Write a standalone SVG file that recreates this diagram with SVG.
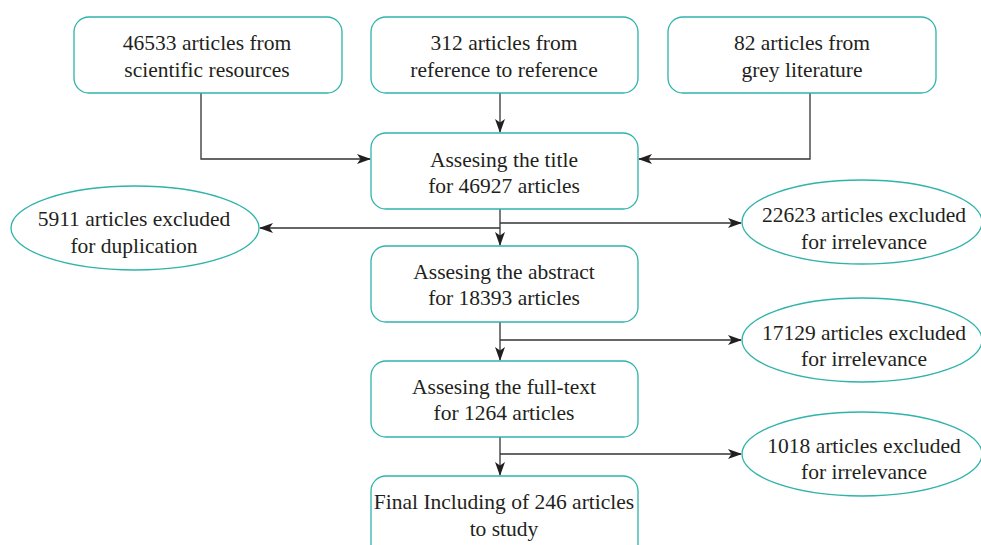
<svg xmlns="http://www.w3.org/2000/svg" width="981" height="545" viewBox="0 0 981 545">
<style>
.box{fill:#fff;stroke:#2fb3aa;stroke-width:1.3}
text{font-family:'Liberation Serif','Times New Roman','DejaVu Serif',serif;font-size:21.5px;fill:#231f20;text-anchor:middle}
.c{fill:none;stroke:#333;stroke-width:1.3}
</style>
<defs>
<marker id="a" markerWidth="14" markerHeight="10" refX="13" refY="5" orient="auto" markerUnits="userSpaceOnUse">
<path d="M0,0 L14,5 L0,10 L3.5,5 Z" fill="#231f20"/>
</marker>
</defs>
<rect width="981" height="545" fill="#fff"/>
<g id="connectors">
<path class="c" d="M201,93 V159 H370" marker-end="url(#a)"/>
<path class="c" d="M500,93 V132" marker-end="url(#a)"/>
<path class="c" d="M810,93 V159 H639" marker-end="url(#a)"/>
<path class="c" d="M500,209 V245" marker-end="url(#a)"/>
<path class="c" d="M500,228 H260" marker-end="url(#a)"/>
<path class="c" d="M500,223 H741" marker-end="url(#a)"/>
<path class="c" d="M500,322 V360" marker-end="url(#a)"/>
<path class="c" d="M500,340 H741" marker-end="url(#a)"/>
<path class="c" d="M500,437 V475" marker-end="url(#a)"/>
<path class="c" d="M500,454 H741" marker-end="url(#a)"/>
</g>
<g font-family="Liberation Serif, serif">
<g id="n1"><rect class="box" x="74" y="17" width="268" height="76" rx="15"/>
<text x="207" y="50">46533 articles from</text><text x="207" y="77">scientific resources</text></g>
<g id="n2"><rect class="box" x="371" y="17" width="267" height="76" rx="15"/>
<text x="504" y="50">312 articles from</text><text x="504" y="77">reference to reference</text></g>
<g id="n3"><rect class="box" x="668" y="17" width="268" height="76" rx="15"/>
<text x="802" y="50">82 articles from</text><text x="802" y="77">grey literature</text></g>
<g id="n4"><rect class="box" x="371" y="133" width="267" height="76" rx="15"/>
<text x="504" y="167">Assesing the title</text><text x="504" y="193">for 46927 articles</text></g>
<g id="n5"><ellipse class="box" cx="135" cy="228" rx="124" ry="42"/>
<text x="134" y="226">5911 articles excluded</text><text x="134" y="253">for duplication</text></g>
<g id="n6"><ellipse class="box" cx="862" cy="222" rx="120" ry="42"/>
<text x="864" y="222">22623 articles excluded</text><text x="864" y="249">for irrelevance</text></g>
<g id="n7"><rect class="box" x="371" y="246" width="267" height="76" rx="15"/>
<text x="504" y="279">Assesing the abstract</text><text x="504" y="305">for 18393 articles</text></g>
<g id="n8"><ellipse class="box" cx="862" cy="340" rx="120" ry="42"/>
<text x="864" y="340">17129 articles excluded</text><text x="864" y="366">for irrelevance</text></g>
<g id="n9"><rect class="box" x="371" y="361" width="267" height="76" rx="15"/>
<text x="504" y="394">Assesing the full-text</text><text x="504" y="420">for 1264 articles</text></g>
<g id="n10"><ellipse class="box" cx="862" cy="454" rx="120" ry="42"/>
<text x="864" y="453">1018 articles excluded</text><text x="864" y="479">for irrelevance</text></g>
<g id="n11"><rect class="box" x="371" y="476" width="267" height="90" rx="15"/>
<text x="504" y="509">Final Including of 246 articles</text><text x="504" y="536">to study</text></g>
</g>
</svg>
